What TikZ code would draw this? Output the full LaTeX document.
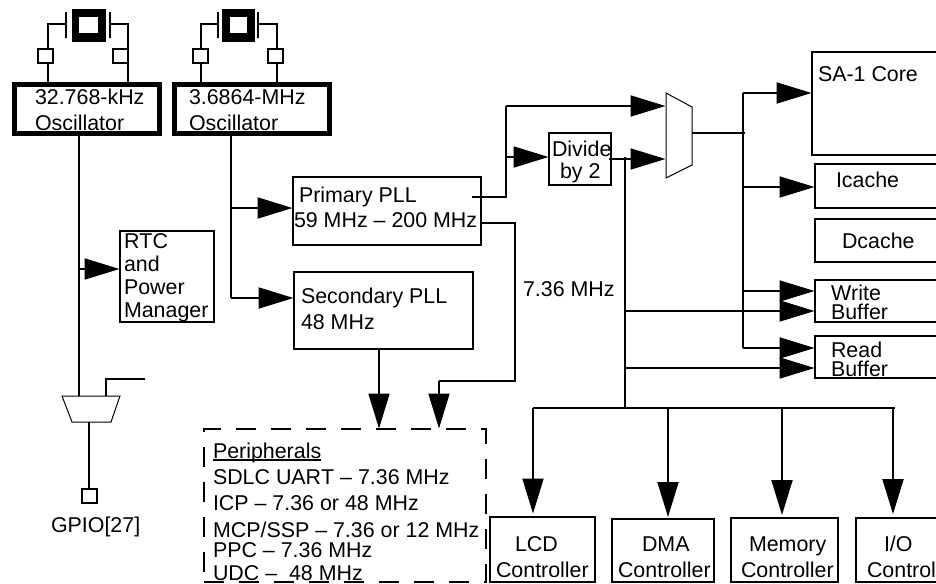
\documentclass[tikz,border=0pt]{standalone}
\usepackage{fontspec}
\setmainfont[Kerning=Off]{Liberation Sans}
\usetikzlibrary{arrows.meta,calc}
\tikzset{
  x=1pt,y=-1pt,
  box/.style={draw=black,line width=2pt,inner sep=0pt,outer sep=0pt,anchor=north west,fill=none},
  oscbox/.style={box,line width=5pt},
  pad/.style={box,fill=white},
  lbl/.style={anchor=base west,inner sep=0pt,outer sep=0pt,font=\fontsize{21.4}{21}\selectfont,text=black},
  wire/.style={draw=black,line width=2pt},
  thinline/.style={draw=black,line width=1.2pt},
  arr/.style={wire,-{Triangle[length=35pt,width=21pt]},shorten >=0.5pt},
  dashbox/.style={box,dash pattern=on 20pt off 15pt},
  xtal/.style={fill=black,inner sep=0pt,outer sep=0pt,anchor=north west},
  hole/.style={fill=white,inner sep=0pt,outer sep=0pt,anchor=north west},
  muxline/.style={draw=black,line width=1pt,line join=miter,fill=white}
}
\begin{document}
\begin{tikzpicture}
\useasboundingbox (0,0) rectangle (936,583);
\clip (0,0) rectangle (936,583);
% oscillator boxes
\node[oscbox,minimum width=145pt,minimum height=49pt] (oa) at (14.5,84.5) {};
\node[oscbox,minimum width=155pt,minimum height=49pt] (ob) at (174.5,84.5) {};
\node[lbl] (oat) at (35,105) {32.768-kHz};
\node[lbl] (oat2) at (35,131) {Oscillator};
\node[lbl] (obt) at (189,105) {3.6864-MHz};
\node[lbl] (obt2) at (189,131) {Oscillator};
% crystal A
\coordinate (aw) at (48,24); \coordinate (ae) at (128,24);
\coordinate (apl) at (66,24); \coordinate (apr) at (110,24);
\draw[wire] (apl) -- (aw) -- (aw |- oa.north);
\draw[wire] (apr) -- (ae) -- (ae |- oa.north);
\node[pad,minimum width=15pt,minimum height=14pt] (pa1) at (38,49) {};
\node[box,minimum width=15pt,minimum height=14pt] (pa2) at (113,49) {};
\draw[wire] (66,12) -- (66,38);
\draw[wire] (110,12) -- (110,38);
\node[xtal,minimum width=34pt,minimum height=33pt] (xa) at (72,9) {};
\node[hole,minimum width=19pt,minimum height=16pt] (xah) at (79,17) {};
% crystal B
\coordinate (bw) at (201,24); \coordinate (be) at (277,24);
\coordinate (bpl) at (218,24); \coordinate (bpr) at (258,24);
\draw[wire] (bpl) -- (bw) -- (bw |- ob.north);
\draw[wire] (bpr) -- (be) -- (be |- ob.north);
\node[pad,minimum width=15pt,minimum height=14pt] (pb1) at (193,49) {};
\node[pad,minimum width=15pt,minimum height=14pt] (pb2) at (268,49) {};
\draw[wire] (218,12) -- (218,38);
\draw[wire] (258,12) -- (258,38);
\node[xtal,minimum width=33pt,minimum height=33pt] (xb) at (222,9) {};
\node[hole,minimum width=17pt,minimum height=16pt] (xbh) at (230,17) {};
% RTC
\node[box,minimum width=94pt,minimum height=91pt] (rtc) at (120,231) {};
\node[lbl] (r1) at (124,248) {RTC};
\node[lbl] (r2) at (124,271) {and};
\node[lbl] (r3) at (124,294) {Power};
\node[lbl] (r4) at (124,317) {Manager};
% PLLs
\node[box,minimum width=188pt,minimum height=68pt] (ppll) at (293,177) {};
\node[lbl] (pt1) at (299,202) {Primary PLL};
\node[lbl] (pt2) at (294,227) {59 MHz -- 200 MHz};
\node[box,minimum width=179pt,minimum height=77pt] (spll) at (294,272) {};
\node[lbl] (st1) at (301,303) {Secondary PLL};
\node[lbl] (st2) at (301,329) {48 MHz};
% Divide
\node[box,minimum width=62pt,minimum height=52pt] (div) at (549,133) {};
\node[lbl] (dt1) at (552,156) {Divide};
\node[lbl] (dt2) at (560,178) {by 2};
\node[lbl] (freq) at (523,296) {7.36 MHz};
% Right boxes
\node[box,minimum width=140pt,minimum height=103pt] (core) at (812,52) {};
\node[lbl] (coret) at (818,82) {SA-1 Core};
\node[box,minimum width=140pt,minimum height=44pt] (icache) at (815,164) {};
\node[lbl] (it) at (836,187) {Icache};
\node[box,minimum width=140pt,minimum height=43pt] (dcache) at (815,219) {};
\node[lbl] (dct) at (842,248) {Dcache};
\node[box,minimum width=140pt,minimum height=42pt] (wbuf) at (815,280) {};
\node[lbl] (wt1) at (831,300) {Write};
\node[lbl] (wt2) at (831,319) {Buffer};
\node[box,minimum width=140pt,minimum height=42pt] (rbuf) at (815,336) {};
\node[lbl] (rt1) at (831,357) {Read};
\node[lbl] (rt2) at (831,376) {Buffer};
% Bottom boxes
\node[box,minimum width=105pt,minimum height=65pt] (lcd) at (490,517) {};
\node[lbl] (lt1) at (515,551) {LCD};
\node[lbl] (lt2) at (496,577) {Controller};
\node[box,minimum width=102pt,minimum height=63pt] (dma) at (612,519) {};
\node[lbl] (mt1) at (642,551) {DMA};
\node[lbl] (mt2) at (618,577) {Controller};
\node[box,minimum width=107pt,minimum height=64pt] (mem) at (731,518) {};
\node[lbl] (et1) at (749,551) {Memory};
\node[lbl] (et2) at (741,577) {Controller};
\node[box,minimum width=100pt,minimum height=64pt] (io) at (856,518) {};
\node[lbl] (ot1) at (884,551) {I/O};
\node[lbl] (ot2) at (867,577) {Control};
% Peripherals
\node[dashbox,minimum width=282pt,minimum height=153pt] (per) at (204,429) {};
\node[lbl] (pert) at (213,458) {Peripherals};
\draw[thinline] ($(pert.base west)+(0,2)$) -- ($(pert.base east)+(0,2)$);
\node[lbl] (pe1) at (213,484) {SDLC UART -- 7.36 MHz};
\node[lbl] (pe2) at (213,510) {ICP -- 7.36 or 48 MHz};
\node[lbl] (pe3) at (213,537) {MCP/SSP -- 7.36 or 12 MHz};
\node[lbl] (pe4) at (213,557) {PPC -- 7.36 MHz};
\node[lbl] (pe5) at (213,580) {UDC --\ \ 48 MHz};
% lower mux
\coordinate (lmi) at (79,396);
\coordinate (lmo) at (89,422);
\coordinate (lmj) at (106,379);
\coordinate (lme) at (145,379);
\coordinate (jrtc) at (79,269);
\draw[wire] (lmi |- oa.south) -- (lmi);
\draw[wire] (lme) -- (lmj) -- (106,396);
\draw[arr] (jrtc) -- (jrtc -| rtc.west);
\draw[muxline] (62,396) -- (120,396) -- (111,422) -- (72,422) -- cycle;
\node[box,minimum width=15pt,minimum height=14pt] (gp) at (82,489) {};
\draw[wire] (lmo) -- (gp.north -| lmo);
\node[lbl] (gpt) at (51,532) {GPIO[27]};
% osc B to PLLs
\coordinate (jp) at (231,208);
\coordinate (js) at (231,298);
\draw[wire] (js |- ob.south) -- (js);
\draw[arr] (jp) -- (jp -| ppll.west);
\draw[arr] (js) -- (js -| spll.west);
% Secondary to peripherals
\coordinate (s1) at (379,429);
\draw[arr] (s1 |- spll.south) -- (s1);
% Primary lower output
\coordinate (p1) at (515,223);
\coordinate (p2) at (515,381);
\coordinate (p3) at (439,381);
\draw[wire] (p1 -| ppll.east) -- (p1) -- (p2) -- (p3);
\draw[arr] (p3) -- (p3 |- per.north);
% Primary upper output
\coordinate (u0) at (472,197);
\coordinate (u1) at (506,197);
\coordinate (u2) at (506,106);
\coordinate (u3) at (666,106);
\coordinate (ud) at (506,157);
\draw[wire] (u0) -- (u1) -- (u2);
\draw[arr] (u2) -- (u3);
\draw[arr] (ud) -- (ud -| div.west);
% Divide output
\coordinate (d1) at (666,159);
\coordinate (d0) at (609,159);
\draw[arr] (d0) -- (d1);
% mux
\draw[muxline] (666,93) -- (692,107) -- (692,165) -- (666,178) -- cycle;
% bus
\coordinate (b0) at (625,157);
\coordinate (b1) at (625,408);
\coordinate (bl) at (533,408);
\coordinate (br) at (895,408);
\coordinate (bd) at (668,408);
\coordinate (bm) at (782,408);
\coordinate (bi) at (893,408);
\draw[wire] (b0) -- (b1);
\draw[wire] (bl) -- (br);
\draw[arr,shorten >=3.5pt] (bl) -- (bl |- lcd.north);
\draw[arr,shorten >=2pt] (bd) -- (bd |- dma.north);
\draw[arr,shorten >=3pt] (bm) -- (bm |- mem.north);
\draw[arr,shorten >=4pt] (bi) -- (bi |- io.north);
\coordinate (b2) at (625,311);
\coordinate (b3) at (625,368);
\draw[arr] (b2) -- (b2 -| wbuf.west);
\draw[arr] (b3) -- (b3 -| rbuf.west);
% core distribution
\coordinate (m0) at (692,133);
\coordinate (m1) at (745,133);
\coordinate (c0) at (743,93);
\coordinate (c1) at (743,187);
\coordinate (c2) at (743,291);
\coordinate (c3) at (743,348);
\draw[wire] (m0) -- (m1);
\draw[wire] (c3) -- (c0);
\draw[arr] (c0) -- (c0 -| core.west);
\draw[arr] (c1) -- (c1 -| icache.west);
\draw[arr] (c2) -- (c2 -| wbuf.west);
\draw[arr] (c3) -- (c3 -| rbuf.west);
\end{tikzpicture}
\end{document}
